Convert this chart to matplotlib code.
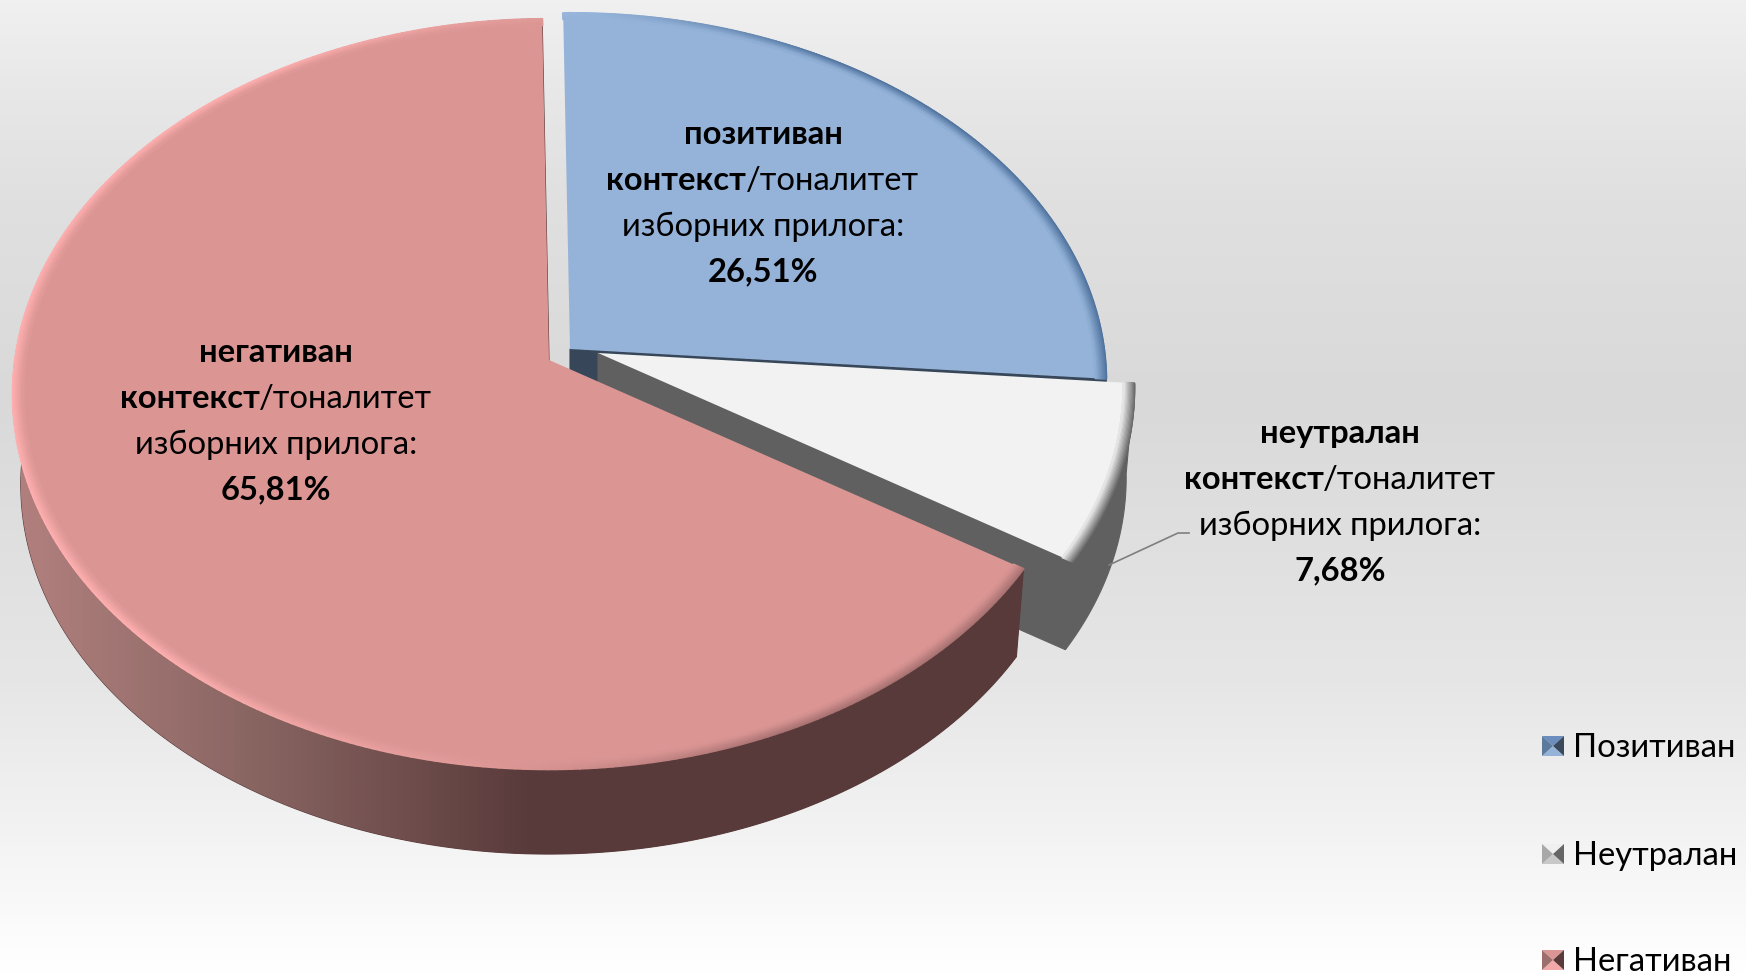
import numpy as np
import matplotlib as mpl
mpl.use("Agg")
import matplotlib.pylab as plt
from matplotlib.collections import LineCollection
from matplotlib.colors import LinearSegmentedColormap, to_rgb

# data
CATEGORIES = ["Позитиван", "Неутралан", "Негативан"]
LABEL_WORDS = ["позитиван", "неутралан", "негативан"]
VALUES = [26.51, 7.68, 65.81]
START_ANGLE = -0.8

# styles
TOP_COLORS = ["#95B3D9", "#F2F2F2", "#DB9694"]
SIDE_COLORS = ["#374759", "#606060", "#5A3B3B"]
LIGHT_COLORS = ["#B5CDEB", "#FFFFFF", "#FFB0B0"]
DARK_COLORS = ["#50749F", "#6A6A6A", "#A87272"]
APEXES = [(570, 349), (598, 353), (549, 360)]
HEIGHT_SCALE = [0.985, 1.0, 1.0]
LABEL_CENTERS = [(763, 135), (1340, 434), (276, 353)]
LINE_STEP = 45.7

RX, RY, PERSP = 534.0, 372.0, 0.0909
DEPTH, SHRINK = 91.0, 0.985

mpl.rcParams["font.family"] = ["Lato", "Open Sans", "DejaVu Sans"]
FONT_SIZE = 23.6


def project(theta, apex, r=1.0, lower=False, hscale=1.0):
    """Polar position on the pie plane to image pixels"""
    t = np.radians(theta)
    x = r * np.sin(t)
    y = r * np.cos(t)
    w = 1 + PERSP * y
    s = SHRINK if lower else 1.0
    dz = DEPTH if lower else 0.0
    return apex[0] + RX * s * x / w, apex[1] + dz - RY * hscale * s * y / w


def mix(c1, c2, f):
    return np.array(c1) * (1 - f) + np.array(c2) * f


def add_bevel(ax, t0, t1, apex, hscale, base, light, dark, zorder):
    """Soft rim along the outer arc of a slice"""
    theta = np.linspace(t0, t1, 300)
    lvec = np.array([-0.9, 0.05])
    lvec = lvec / np.linalg.norm(lvec)
    shade = np.sin(np.radians(theta)) * lvec[0] + np.cos(np.radians(theta)) * lvec[1]
    nstep = 10
    for i in range(nstep):
        r = 1.0 - 0.0022 * i
        fall = 1 - i / nstep
        xs, ys = project(theta, apex, r=r, hscale=hscale)
        pts = np.column_stack([xs, ys])
        segs = np.stack([pts[:-1], pts[1:]], axis=1)
        colors = []
        for sh in shade[:-1]:
            if sh > 0:
                colors.append(mix(base, light, min(1, sh * 1.6) * fall))
            else:
                colors.append(mix(base, dark, min(1, -sh * 2.2) * fall))
        ax.add_collection(LineCollection(segs, colors=colors, linewidths=1.6,
                                         capstyle="round", zorder=zorder))


def draw_runs(ax, xc, y, runs, renderer, zorder=20):
    """Centered line of text built from (string, weight) runs"""
    items = [ax.text(0, y, s, fontsize=FONT_SIZE, fontweight=wt, ha="left",
                     va="center", color="black", zorder=zorder)
             for s, wt in runs]
    widths = [t.get_window_extent(renderer).width for t in items]
    x = xc - sum(widths) / 2
    for t, w in zip(items, widths):
        t.set_x(x)
        x += w


fig = plt.figure(figsize=(17.46, 9.76), dpi=100)
ax = fig.add_axes([0, 0, 1, 1])
ax.set_axis_off()

# page background
bg_cmap = LinearSegmentedColormap.from_list(
    "bg", [(0, "#F0F0F0"), (0.1, "#E7E7E7"), (0.2, "#E0E0E0"), (0.41, "#D9D9D9"),
           (0.7, "#E6E6E6"), (1, "#FFFFFF")])
ax.imshow(np.linspace(0, 1, 976)[:, None], cmap=bg_cmap, aspect="auto",
          extent=(0, 1746, 976, 0), zorder=0)

# slice angles from the values
fractions = np.array(VALUES) / np.sum(VALUES)
edges = START_ANGLE + 360 * np.concatenate([[0], np.cumsum(fractions)])

for i in range(3):
    t0, t1 = edges[i], edges[i + 1]
    apex = APEXES[i]
    hs = HEIGHT_SCALE[i]
    z = 2 + 3 * i
    theta = np.linspace(t0, t1, 400)
    side_theta = theta[theta > 10]

    # inner wall along the closing edge and outer wall
    ux, uy = project(t1, apex, hscale=hs)
    lx, ly = project(t1, apex, lower=True, hscale=hs)
    ax.fill([apex[0], ux, lx, apex[0]],
            [apex[1], uy, ly, apex[1] + DEPTH],
            color=SIDE_COLORS[i], lw=0.8, zorder=z)
    xs_u, ys_u = project(side_theta, apex, hscale=hs)
    xs_l, ys_l = project(side_theta, apex, lower=True, hscale=hs)
    side = ax.fill(np.r_[xs_u, xs_l[::-1]], np.r_[ys_u, ys_l[::-1]],
                   color=SIDE_COLORS[i], lw=0.8, zorder=z)[0]
    if i == 2:
        grad = LinearSegmentedColormap.from_list(
            "side", [(0, "#B48280"), (0.14, "#8A6663"), (0.30, "#5A3B3B"),
                     (1, "#573A3A")])
        im = ax.imshow(np.linspace(0, 1, 800)[None, :], cmap=grad, aspect="auto",
                       extent=(0, 1746, 976, 0), zorder=z)
        im.set_clip_path(side)

    # top face
    xu, yu = project(theta, apex, hscale=hs)
    ax.fill(np.r_[apex[0], xu], np.r_[apex[1], yu], color=TOP_COLORS[i],
            lw=0, zorder=z + 1)
    add_bevel(ax, t0, t1, apex, hs, to_rgb(TOP_COLORS[i]), to_rgb(LIGHT_COLORS[i]),
              to_rgb(DARK_COLORS[i]), z + 1.5)

# leader line of the neutral label
ax.plot([1109, 1178, 1189], [565, 533, 533], color="#7F7F7F", lw=1.2, zorder=15)

# slice labels
renderer = fig.canvas.get_renderer()
for word, val, (xc, y0) in zip(LABEL_WORDS, VALUES, LABEL_CENTERS):
    pct = "{:.2f}%".format(val).replace(".", ",")
    lines = [[(word, "bold")],
             [("контекст", "bold"), ("/тоналитет", "normal")],
             [("изборних прилога:", "normal")],
             [(pct, "bold")]]
    for j, runs in enumerate(lines):
        draw_runs(ax, xc, y0 + j * LINE_STEP, runs, renderer)

# legend with bevelled keys
KEY_SHADES = [("#6C8EBF", "#95B3D9", "#5C7A9C", "#3A4A5C"),
              ("#F0F0F0", "#C8C8C8", "#A8A8A8", "#666666"),
              ("#D99694", "#F0A9A8", "#9C6E6C", "#5A3A3A")]
LEGEND_Y = [746, 854, 960]
for name, yc, shades in zip(CATEGORIES, LEGEND_Y, KEY_SHADES):
    x0, x1, y0, y1 = 1542, 1564, yc - 10, yc + 10
    xm, ym = (x0 + x1) / 2, yc
    ax.fill([x0, x1, xm], [y0, y0, ym], color=shades[0], lw=0, zorder=20)
    ax.fill([x0, x1, xm], [y1, y1, ym], color=shades[1], lw=0, zorder=20)
    ax.fill([x0, x0, xm], [y0, y1, ym], color=shades[2], lw=0, zorder=20)
    ax.fill([x1, x1, xm], [y0, y1, ym], color=shades[3], lw=0, zorder=20)
    ax.text(1573, yc + 2, name, fontsize=FONT_SIZE, ha="left", va="center",
            color="black", zorder=20)

ax.set_xlim(0, 1746)
ax.set_ylim(976, 0)
fig.savefig("out.png", dpi=100)
